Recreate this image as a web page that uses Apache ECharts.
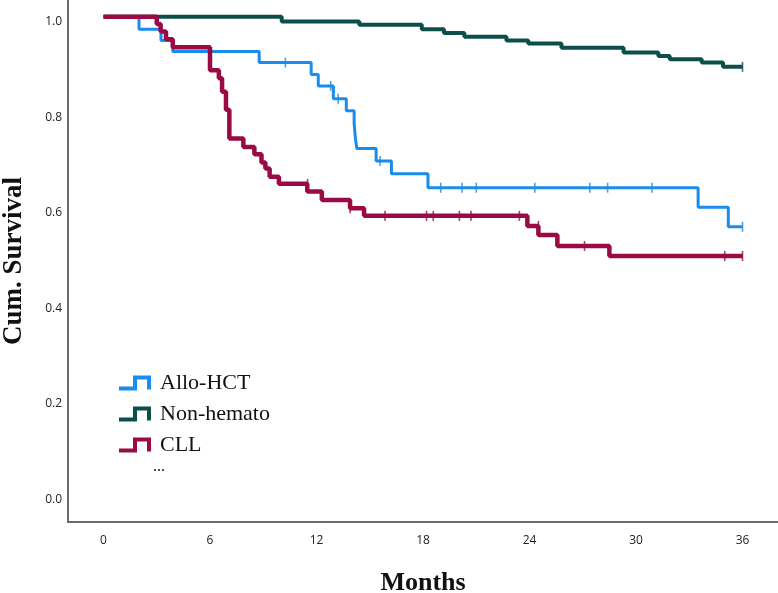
<!DOCTYPE html>
<html>
<head>
<meta charset="utf-8">
<script src="https://cdn.jsdelivr.net/npm/echarts@6/dist/echarts.min.js"></script>
<style>
html,body{margin:0;padding:0;background:#fff;}
#chart{width:778px;height:593px;}
</style>
</head>
<body>
<div id="chart"></div>
<script>
// ---- data (months, cumulative survival) ----
var seriesNames = ['Allo-HCT', 'Non-hemato', 'CLL'];
var xTicks = [0, 6, 12, 18, 24, 30, 36];
var yTicks = [0.0, 0.2, 0.4, 0.6, 0.8, 1.0];

var alloSteps = [[0,1.0],[2.0,0.974],[3.24,0.95],[3.9,0.927],[8.77,0.904],[11.7,0.879],[12.1,0.855],[12.95,0.828],[13.68,0.803],[14.12,0.777],[14.18,0.750],[14.27,0.724],[15.36,0.698],[16.22,0.671],[18.28,0.642],[33.5,0.601],[35.2,0.560],[36.0,0.560]];
var alloCensor = [[10.25,0.904],[12.8,0.855],[13.22,0.828],[14.17,0.750],[15.58,0.698],[19.0,0.642],[20.2,0.642],[21.0,0.642],[24.3,0.642],[27.4,0.642],[28.4,0.642],[30.9,0.642],[36.0,0.560]];

var nonSteps = [[0,1.0],[10.04,0.990],[14.41,0.983],[17.93,0.974],[19.18,0.966],[20.33,0.958],[22.7,0.950],[23.93,0.944],[25.8,0.935],[29.3,0.925],[31.26,0.918],[31.9,0.911],[33.7,0.904],[34.9,0.895],[36.0,0.895]];
var nonCensor = [[36.0,0.895]];

var cllSteps = [[0,1.0],[3.0,0.985],[3.22,0.969],[3.52,0.953],[3.9,0.936],[6.0,0.888],[6.5,0.871],[6.68,0.843],[6.9,0.805],[7.09,0.745],[7.88,0.727],[8.5,0.712],[8.9,0.695],[9.12,0.682],[9.36,0.665],[9.88,0.650],[11.48,0.634],[12.3,0.616],[13.89,0.599],[14.68,0.583],[23.88,0.562],[24.5,0.543],[25.57,0.520],[28.5,0.499],[36.0,0.499]];
var cllCensor = [[11.5,0.650],[13.89,0.599],[15.86,0.583],[18.2,0.583],[18.58,0.583],[20.05,0.583],[20.7,0.583],[23.43,0.583],[24.5,0.562],[27.1,0.520],[35.0,0.499],[36.0,0.499]];

var colors = ['#1a8ceb', '#0b4e4a', '#9a0b45'];
var widths = [3, 4, 4.5];

var stepIcon = 'path://M0,11 L14,11 L14,0 L32,0 L32,14 L28,14 L28,4 L18,4 L18,15 L0,15 Z';

var chart = echarts.init(document.getElementById('chart'), null, {renderer: 'canvas'});

var stepData = [alloSteps, nonSteps, cllSteps];
var censorData = [alloCensor, nonCensor, cllCensor];
var series = [];
for (var i = 0; i < 3; i++) {
  series.push({
    name: seriesNames[i],
    type: 'line',
    step: 'end',
    data: stepData[i],
    showSymbol: false,
    symbol: 'none',
    lineStyle: {color: colors[i], width: widths[i]},
    itemStyle: {color: colors[i]},
    z: 3 + (i === 2 ? 1 : 0),
    animation: false
  });
}
for (var j = 0; j < 3; j++) {
  series.push({
    name: seriesNames[j] + ' censored',
    type: 'scatter',
    data: censorData[j],
    symbol: 'rect',
    symbolSize: [1.6, 10],
    itemStyle: {color: colors[j]},
    z: 5,
    animation: false
  });
}

var option = {
  backgroundColor: '#ffffff',
  animation: false,
  grid: {left: 68, right: 0, top: 0, bottom: 71, outerBoundsMode: 'none', containLabel: false},
  legend: {
    orient: 'vertical',
    left: 114,
    top: 367,
    itemWidth: 32,
    itemHeight: 15,
    itemGap: 9,
    icon: stepIcon,
    data: seriesNames.map(function (n) { return {name: n, icon: stepIcon}; }),
    textStyle: {fontFamily: 'Liberation Serif', fontSize: 22, color: '#111', lineHeight: 22, padding: [0, 0, 0, 4]},
    itemStyle: {borderWidth: 0},
    selectedMode: false
  },
  xAxis: {
    type: 'value',
    min: -2,
    max: 38,
    name: 'Months',
    nameLocation: 'middle',
    nameGap: 48,
    nameTextStyle: {fontFamily: 'Liberation Serif', fontWeight: 'bold', fontSize: 26, color: '#111'},
    axisLine: {show: true, onZero: false, lineStyle: {color: '#6b6b6b', width: 2}},
    axisTick: {show: false},
    splitLine: {show: false},
    axisLabel: {customValues: xTicks, margin: 13, fontFamily: 'Open Sans', fontSize: 12, color: '#222'}
  },
  yAxis: {
    type: 'value',
    min: -0.058,
    max: 1.035,
    name: 'Cum. Survival',
    nameLocation: 'middle',
    nameGap: 40,
    nameTextStyle: {fontFamily: 'Liberation Serif', fontWeight: 'bold', fontSize: 27, color: '#111'},
    axisLine: {show: true, onZero: false, lineStyle: {color: '#6b6b6b', width: 2}},
    axisTick: {show: false},
    splitLine: {show: false},
    axisLabel: {
      customValues: yTicks,
      margin: 6,
      verticalAlign: 'top',
      lineHeight: 10,
      fontFamily: 'Open Sans', fontSize: 12, color: '#222',
      formatter: function (v) { return v.toFixed(1); }
    }
  },
  graphic: [{
    type: 'text',
    left: 153,
    top: 459,
    style: {text: '...', fontFamily: 'Liberation Serif', fontSize: 16, fill: '#111'}
  }],
  series: series
};
chart.setOption(option);
</script>
</body>
</html>
